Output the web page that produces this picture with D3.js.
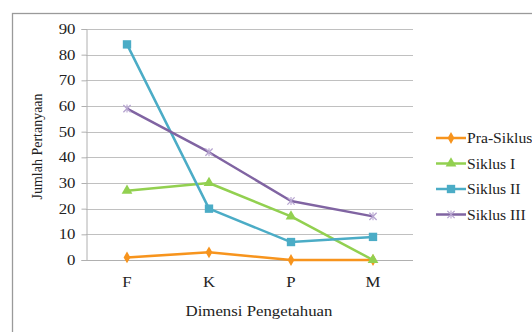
<!DOCTYPE html>
<html>
<head>
<meta charset="utf-8">
<script src="https://cdn.jsdelivr.net/npm/d3@7/dist/d3.min.js"></script>
<style>
  html, body { margin: 0; padding: 0; background: #fff; }
  svg text { font-family: "Liberation Serif", "Times New Roman", serif; }
</style>
</head>
<body>
<svg id="chart" width="532" height="332"></svg>
<script>
// Knowledge dimensions on the x axis
const categories = ["F", "K", "P", "M"];
const seriesNames = ["Pra-Siklus", "Siklus I", "Siklus II", "Siklus III"];
const praSiklus = [1, 3, 0, 0];
const siklus1 = [27, 30, 17, 0];
const siklus2 = [84, 20, 7, 9];
const siklus3 = [59, 42, 23, 17];
const yTicks = [0, 10, 20, 30, 40, 50, 60, 70, 80, 90];

const seriesValues = [praSiklus, siklus1, siklus2, siklus3];
const colors = ["#F7941D", "#92D050", "#4BACC6", "#8064A2"];
const markerTypes = ["diamond", "triangle", "square", "star"];

// Horizontal text is drawn slightly widened
const STRETCH = 1.2;
const FONT = "'Liberation Serif', 'Times New Roman', serif";

const svg = d3.select("#chart");
const plot = { left: 86, right: 414, top: 29, bottom: 260 };

// Outer frame of the chart area
svg.append("rect")
  .attr("x", 12.5).attr("y", 13.5)
  .attr("width", 600).attr("height", 400)
  .attr("fill", "none").attr("stroke", "#9a9a9a").attr("stroke-width", 1.3);

const x = d3.scaleBand().domain(categories).range([plot.left, plot.right]);
const y = d3.scaleLinear().domain([0, 90]).range([plot.bottom, plot.top]);

// Horizontal gridlines
svg.append("g").selectAll("line").data(yTicks.filter(d => d > 0)).join("line")
  .attr("x1", plot.left).attr("x2", plot.right - 1)
  .attr("y1", d => Math.round(y(d)) + 0.5).attr("y2", d => Math.round(y(d)) + 0.5)
  .attr("stroke", "#c0c0c0").attr("stroke-width", 1.2);

// Y axis
const yAxis = svg.append("g")
  .attr("transform", `translate(${plot.left + 0.5},0)`)
  .call(d3.axisLeft(y).tickValues(yTicks).tickSize(5).tickPadding(6));
yAxis.attr("font-family", null);
yAxis.select(".domain").attr("stroke", "#b0b0b0");
yAxis.selectAll(".tick line").attr("stroke", "#b0b0b0");
yAxis.selectAll(".tick text")
  .style("font-family", FONT).attr("font-size", 14).attr("fill", "#222")
  .attr("x", -11 / STRETCH).attr("transform", `scale(${STRETCH},1)`);

// X axis
const xAxis = svg.append("g")
  .attr("transform", `translate(0,${Math.round(y(0)) + 0.5})`)
  .call(d3.axisBottom(x).tickSize(0).tickPadding(17));
xAxis.attr("font-family", null);
xAxis.select(".domain").attr("stroke", "#b0b0b0").attr("stroke-width", 1.2)
  .attr("d", `M${plot.left - 4},0H${plot.right - 1}`);
xAxis.selectAll(".tick text")
  .style("font-family", FONT).attr("font-size", 14).attr("fill", "#222")
  .attr("transform", `scale(${STRETCH},1)`);

// Axis titles
svg.append("text")
  .attr("transform", `translate(42,${(plot.top + plot.bottom) / 2 + 2}) rotate(-90)`)
  .attr("text-anchor", "middle").attr("font-size", 14).attr("fill", "#222")
  .style("font-family", FONT)
  .text("Jumlah Pertanyaan");
svg.append("text")
  .attr("transform", `translate(259,316) scale(${STRETCH},1)`)
  .attr("text-anchor", "middle").attr("font-size", 14).attr("fill", "#222")
  .style("font-family", FONT)
  .text("Dimensi Pengetahuan");

const line = d3.line()
  .x((d, i) => x(categories[i]) + x.bandwidth() / 2)
  .y(d => y(d));

function drawMarker(g, type, cx, cy, color) {
  if (type === "diamond") {
    g.append("path").attr("d", d3.symbol(d3.symbolDiamond, 40)())
      .attr("transform", `translate(${cx},${cy})`).attr("fill", color);
  } else if (type === "triangle") {
    g.append("path").attr("d", d3.symbol(d3.symbolTriangle, 50)())
      .attr("transform", `translate(${cx},${cy})`).attr("fill", color);
  } else if (type === "square") {
    g.append("path").attr("d", d3.symbol(d3.symbolSquare, 70)())
      .attr("transform", `translate(${cx},${cy})`).attr("fill", color);
  } else {
    g.append("path").attr("d", d3.symbol(d3.symbolTimes, 36)())
      .attr("transform", `translate(${cx},${cy})`)
      .attr("fill", "none").attr("stroke", "#B6A4D0").attr("stroke-width", 1.3);
    g.append("line").attr("x1", cx).attr("x2", cx).attr("y1", cy - 4).attr("y2", cy + 4)
      .attr("stroke", "#B6A4D0").attr("stroke-width", 1.1);
  }
}

// Series lines and markers
seriesValues.forEach((vals, s) => {
  const g = svg.append("g");
  g.append("path").datum(vals).attr("d", line)
    .attr("fill", "none").attr("stroke", colors[s]).attr("stroke-width", 2.5)
    .attr("stroke-linejoin", "round");
  vals.forEach((v, i) => {
    drawMarker(g, markerTypes[s], x(categories[i]) + x.bandwidth() / 2, y(v), colors[s]);
  });
});

// Legend
const legend = svg.append("g");
seriesNames.forEach((name, s) => {
  const ly = 138 + s * 25.5;
  legend.append("line").attr("x1", 436).attr("x2", 466).attr("y1", ly).attr("y2", ly)
    .attr("stroke", colors[s]).attr("stroke-width", 2.5);
  drawMarker(legend, markerTypes[s], 451, ly, colors[s]);
  legend.append("text")
    .attr("transform", `translate(467,${ly + 5}) scale(1.12,1)`)
    .attr("font-size", 14).attr("fill", "#222")
    .style("font-family", FONT).text(name);
});
</script>
</body>
</html>
